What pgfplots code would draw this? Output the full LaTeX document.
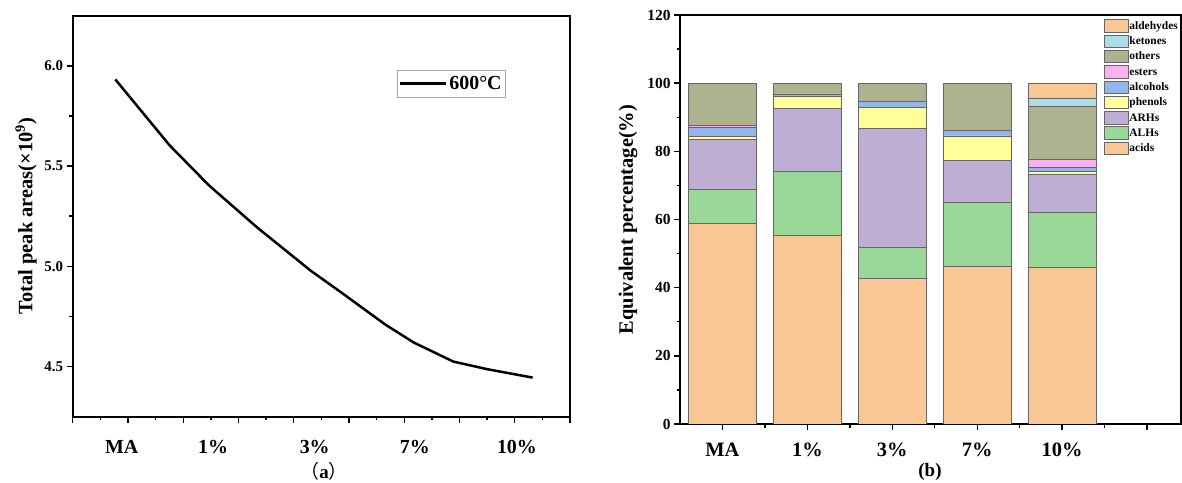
\documentclass[border=0pt]{standalone}
\usepackage{fontspec}
\setmainfont{Liberation Serif}
\newfontfamily\cjk{Noto Sans CJK SC}
\usepackage{pgfplots}
\usepackage{pgfplotstable}
\pgfplotsset{compat=1.18}
\definecolor{cacid}{HTML}{F8C794}
\definecolor{calh}{HTML}{9AD89A}
\definecolor{carh}{HTML}{BEAED4}
\definecolor{cphe}{HTML}{FFFF99}
\definecolor{calc}{HTML}{93B6EC}
\definecolor{cest}{HTML}{F9B0EE}
\definecolor{coth}{HTML}{AEB38F}
\definecolor{cket}{HTML}{ADDEE6}
\definecolor{cald}{HTML}{F8C794}
\definecolor{cedge}{HTML}{666666}

\pgfplotstableread{
x acids ALHs ARHs phenols alcohols esters others ketones aldehydes
0 58.8 10.0 14.7 0.8 2.6 0.7 12.4 0 0
1 55.4 18.7 18.6 3.4 0.7 0 3.2 0 0
2 42.6 9.2 35.0 6.2 1.5 0 5.5 0 0
3 46.3 18.7 12.2 7.3 1.6 0 13.9 0 0
4 46.0 16.1 11.2 0.8 1.2 2.4 15.6 2.2 4.5
}\datab

\begin{document}
\begin{tikzpicture}
\path[use as bounding box] (0,0) rectangle (1182bp,483bp);

% ---------- panel (a) ----------
\begin{axis}[
  name=pa,
  at={(72.7bp,66.3bp)}, anchor=south west, scale only axis,
  width=497.3bp, height=401bp,
  xmin=0, xmax=9, ymin=4.25, ymax=6.25,
  xtick={0,...,9}, xticklabels={}, minor x tick num=1,
  ytick={4.5,5,5.5,6}, minor y tick num=1,
  tick align=outside, xtick pos=left, ytick pos=left,
  major tick length=6bp, minor tick length=3.5bp,
  axis line style={draw=black, line width=1.6bp},
  major tick style={draw=black, line width=1.4bp},
  minor tick style={draw=black, line width=1.4bp},
  /pgf/number format/assume math mode=true,
  tick label style={font=\fontsize{15}{15}\selectfont\bfseries},
  yticklabel style={/pgf/number format/fixed, /pgf/number format/fixed zerofill, /pgf/number format/precision=1},
  extra x ticks={0.886,2.54,4.38,6.19,8.04},
  extra x tick labels={MA,1\%,3\%,7\%,10\%},
  extra x tick style={major tick length=0pt, tick label style={font=\fontsize{20}{20}\selectfont\bfseries, yshift=-20bp}},
  ylabel={Total peak areas(×10\textsuperscript{9})},
  ylabel style={at={(axis description cs:-0.094,0.5)}, anchor=center, font=\fontsize{20.5}{20.5}\selectfont\bfseries},
  legend style={at={(rel axis cs:0.6515,0.8646)}, anchor=north west, draw=gray!70,
    font=\fontsize{20}{20}\selectfont\bfseries, inner xsep=2bp, inner ysep=4bp},
  legend image code/.code={\draw[#1] (0bp,0bp) -- (46bp,0bp);},
]
\addplot[black, line width=2.5bp] coordinates {
(0.772,5.932) (1.752,5.604) (2.465,5.404) (3.333,5.195) (4.304,4.979)
(4.888,4.864) (5.660,4.709) (6.172,4.620) (6.888,4.525) (7.501,4.487) (8.324,4.445)};
\addlegendentry{600°C}
\end{axis}

% ---------- panel (b) ----------
\begin{axis}[
  name=pb,
  at={(680bp,59bp)}, anchor=south west, scale only axis,
  width=501bp, height=409bp,
  ybar stacked, bar width=0.8,
  xmin=-0.5, xmax=5.4, ymin=0, ymax=120,
  xtick={0,...,5}, xticklabels={MA,1\%,3\%,7\%,10\%,{}}, minor x tick num=1,
  ytick={0,20,...,120}, minor y tick num=1,
  tick align=outside, xtick pos=left, ytick pos=left,
  major tick length=6bp, minor tick length=3.5bp,
  axis line style={draw=black, line width=1.6bp},
  major tick style={draw=black, line width=1.4bp},
  minor tick style={draw=black, line width=1.4bp},
  /pgf/number format/assume math mode=true,
  yticklabel style={font=\fontsize{15.5}{15.5}\selectfont\bfseries},
  xticklabel style={font=\fontsize{20.5}{20.5}\selectfont\bfseries, yshift=-9bp},
  ylabel={Equivalent percentage(\%)},
  ylabel style={at={(axis description cs:-0.1036,0.5)}, anchor=center, font=\fontsize{20.5}{20.5}\selectfont\bfseries},
  legend style={at={(rel axis cs:0.839,0.995)}, anchor=north west, draw=none, fill=none,
    font=\fontsize{11.5}{11.5}\selectfont\bfseries, row sep=1.8bp,
    nodes={inner sep=1bp, text height=9bp, text depth=2.5bp}},
  legend cell align=left, reverse legend,
  legend image code/.code={\draw[#1] (0bp,-6.2bp) rectangle (24bp,6.2bp);},
  every axis plot/.append style={draw=cedge, line width=0.9bp},
]
\addplot[fill=cacid, draw=cedge] table[x=x, y=acids] {\datab};
\addlegendentry{acids}
\addplot[fill=calh, draw=cedge] table[x=x, y=ALHs] {\datab};
\addlegendentry{ALHs}
\addplot[fill=carh, draw=cedge] table[x=x, y=ARHs] {\datab};
\addlegendentry{ARHs}
\addplot[fill=cphe, draw=cedge] table[x=x, y=phenols] {\datab};
\addlegendentry{phenols}
\addplot[fill=calc, draw=cedge] table[x=x, y=alcohols] {\datab};
\addlegendentry{alcohols}
\addplot[fill=cest, draw=cedge] table[x=x, y=esters] {\datab};
\addlegendentry{esters}
\addplot[fill=coth, draw=cedge] table[x=x, y=others] {\datab};
\addlegendentry{others}
\addplot[fill=cket, draw=cedge] table[x=x, y=ketones] {\datab};
\addlegendentry{ketones}
\addplot[fill=cald, draw=cedge] table[x=x, y=aldehydes] {\datab};
\addlegendentry{aldehydes}
\end{axis}

\node[font=\fontsize{19}{19}\selectfont] at (324bp,12bp) {{\cjk （}\textbf{a}{\cjk ）}};
\node[font=\fontsize{19}{19}\selectfont\bfseries] at (930bp,11.3bp) {(b)};
% frame sides as thin filled strips
\fill[black] (71.9bp,466.3bp) rectangle (570.4bp,467.9bp);
\fill[black] (568.8bp,66.3bp) rectangle (570.4bp,467.9bp);
\fill[black] (679.2bp,467.0bp) rectangle (1182bp,468.6bp);
\end{tikzpicture}
\end{document}
